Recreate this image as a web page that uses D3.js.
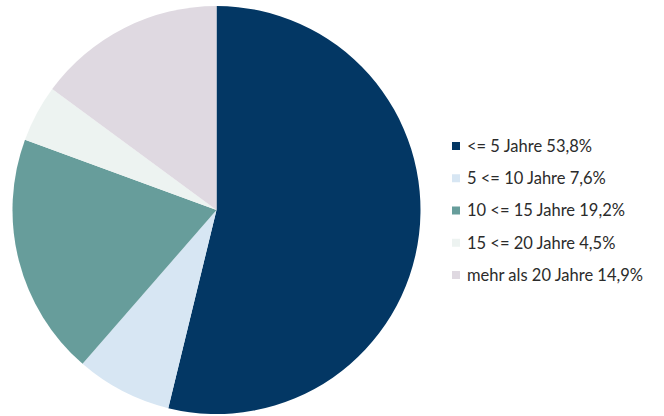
<!DOCTYPE html>
<html><head><meta charset="utf-8">
<script src="https://cdn.jsdelivr.net/npm/d3@7"></script>
<style>html,body{margin:0;padding:0;background:#fff;}svg{display:block;}</style>
</head><body>
<script>
const categories = ["<= 5 Jahre", "5 <= 10 Jahre", "10 <= 15 Jahre", "15 <= 20 Jahre", "mehr als 20 Jahre"];
const values = [53.8, 7.6, 19.2, 4.5, 14.9];
const labels = ["53,8%", "7,6%", "19,2%", "4,5%", "14,9%"];
const colors = ["#033764", "#d7e6f3", "#679d9b", "#edf3f1", "#dfd9e1"];

const W = 664, H = 416;
const svg = d3.select("body").append("svg").attr("width", W).attr("height", H);
const cx = 216.5, cy = 210, r = 204;

const data = categories.map((c, i) => ({c, v: values[i], l: labels[i], col: colors[i]}));
const pie = d3.pie().value(d => d.v).sort(null);
const arc = d3.arc().innerRadius(0).outerRadius(r);
svg.append("g").attr("transform", `translate(${cx},${cy})`)
  .selectAll("path").data(pie(data)).join("path")
  .attr("d", arc).attr("fill", d => d.data.col);

const y = d3.scalePoint().domain(categories).range([146, 275]);
const lg = svg.append("g");
const row = lg.selectAll("g").data(data).join("g")
  .attr("transform", d => `translate(452,${y(d.c)})`);
row.append("rect").attr("x", 0).attr("y", -4).attr("width", 8).attr("height", 8).attr("fill", d => d.col);
row.append("text").attr("x", 15).attr("y", 0).attr("dy", "0.36em")
  .attr("font-family", "Lato, sans-serif").attr("font-size", 16.5).attr("fill", "#2b2b2b")
  .text(d => `${d.c} ${d.l}`);
</script>
</body></html>
